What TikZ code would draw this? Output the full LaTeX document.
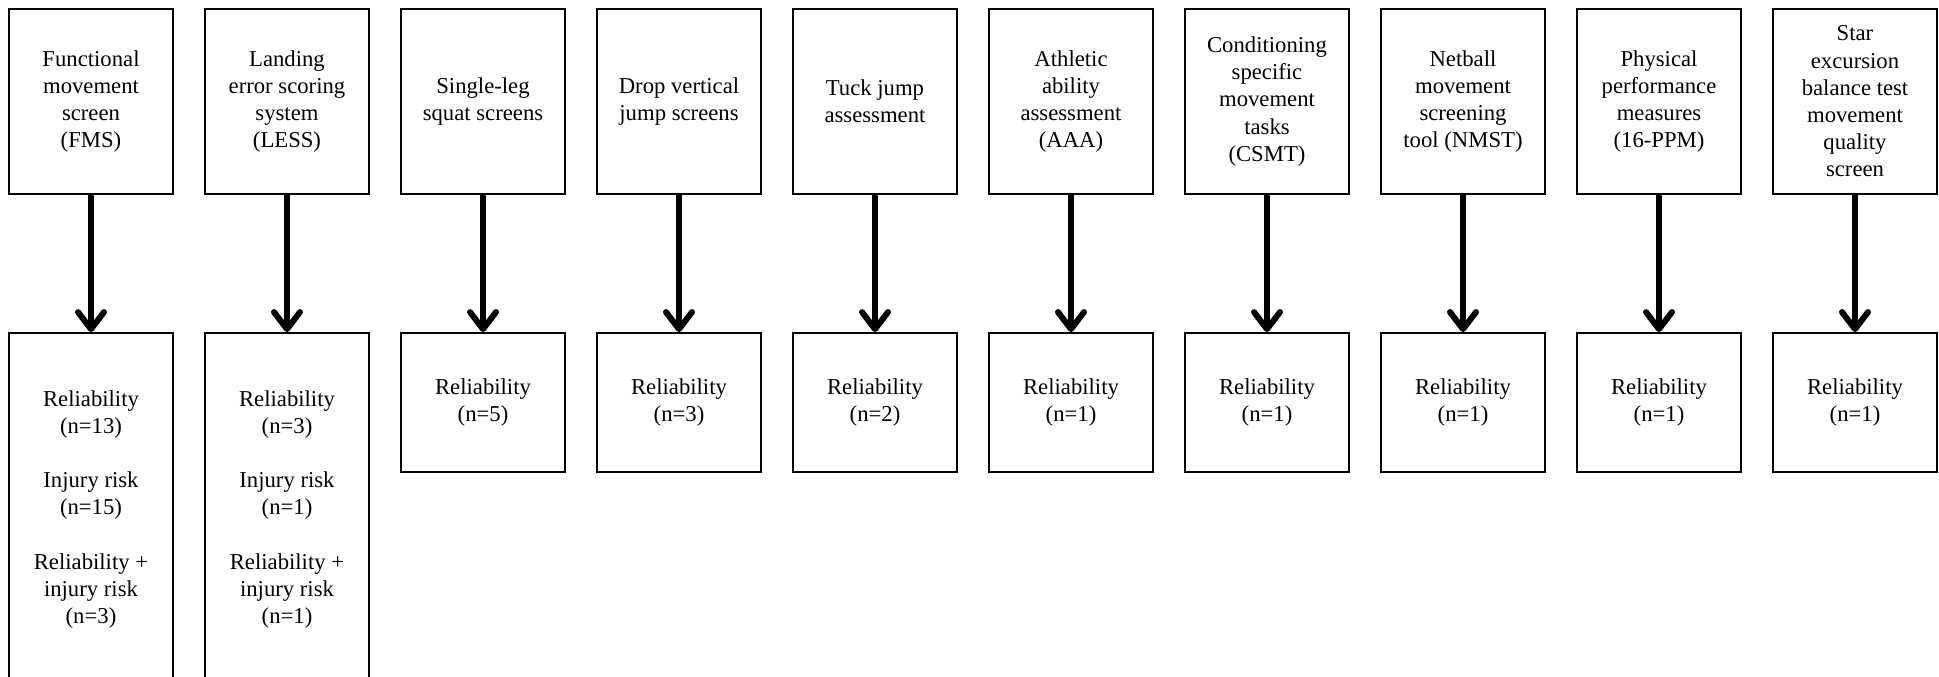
\documentclass[tikz,border=0pt]{standalone}
\usepackage{fontspec}
\setmainfont{Liberation Serif}
\usetikzlibrary{arrows.meta}
\begin{document}
\begin{tikzpicture}[x=1pt,y=-1pt,
  box/.style={draw=black, line width=1.8pt, minimum width=164pt, inner sep=0pt, align=center,
    font=\fontsize{22.7pt}{27.2pt}\selectfont},
  topbox/.style={box, minimum height=185pt},
  smallbox/.style={box, minimum height=139pt},
  tallbox/.style={box, minimum height=353pt},
  conn/.style={line width=6pt, -{Straight Barb[length=17pt,width=26pt,line cap=round,line join=round]}}
]
\useasboundingbox[fill=white] (0,0) rectangle (1939,677);
\clip (0,0) rectangle (1939,677);
% top row
\node[topbox] (t1) at (91,101.5) {Functional\\movement\\screen\\(FMS)};
\node[topbox] (t2) at (287,101.5) {Landing\\error scoring\\system\\(LESS)};
\node[topbox] (t3) at (483,101.5) {Single-leg\\squat screens};
\node[topbox] (t4) at (679,101.5) {Drop vertical\\jump screens};
\node[topbox] (t5) at (875,101.5) {Tuck jump\\assessment};
\node[topbox] (t6) at (1071,101.5) {Athletic\\ability\\assessment\\(AAA)};
\node[topbox] (t7) at (1267,101.5) {Conditioning\\specific\\movement\\tasks\\(CSMT)};
\node[topbox] (t8) at (1463,101.5) {Netball\\movement\\screening\\tool (NMST)};
\node[topbox] (t9) at (1659,101.5) {Physical\\performance\\measures\\(16-PPM)};
\node[topbox] (t10) at (1855,101.5) {Star\\excursion\\balance test\\movement\\quality\\screen};
% bottom row
\node[tallbox] (b1) at (91,509.5) {Reliability\\(n=13)\\[27.2pt]Injury risk\\(n=15)\\[27.2pt]Reliability +\\injury risk\\(n=3)};
\node[tallbox] (b2) at (287,509.5) {Reliability\\(n=3)\\[27.2pt]Injury risk\\(n=1)\\[27.2pt]Reliability +\\injury risk\\(n=1)};
\node[smallbox] (b3) at (483,402.5) {Reliability\\(n=5)};
\node[smallbox] (b4) at (679,402.5) {Reliability\\(n=3)};
\node[smallbox] (b5) at (875,402.5) {Reliability\\(n=2)};
\node[smallbox] (b6) at (1071,402.5) {Reliability\\(n=1)};
\node[smallbox] (b7) at (1267,402.5) {Reliability\\(n=1)};
\node[smallbox] (b8) at (1463,402.5) {Reliability\\(n=1)};
\node[smallbox] (b9) at (1659,402.5) {Reliability\\(n=1)};
\node[smallbox] (b10) at (1855,402.5) {Reliability\\(n=1)};
% connectors
\foreach \i in {1,...,10} {
  \draw[conn] (t\i.south) -- (b\i.north);
}
\end{tikzpicture}
\end{document}
